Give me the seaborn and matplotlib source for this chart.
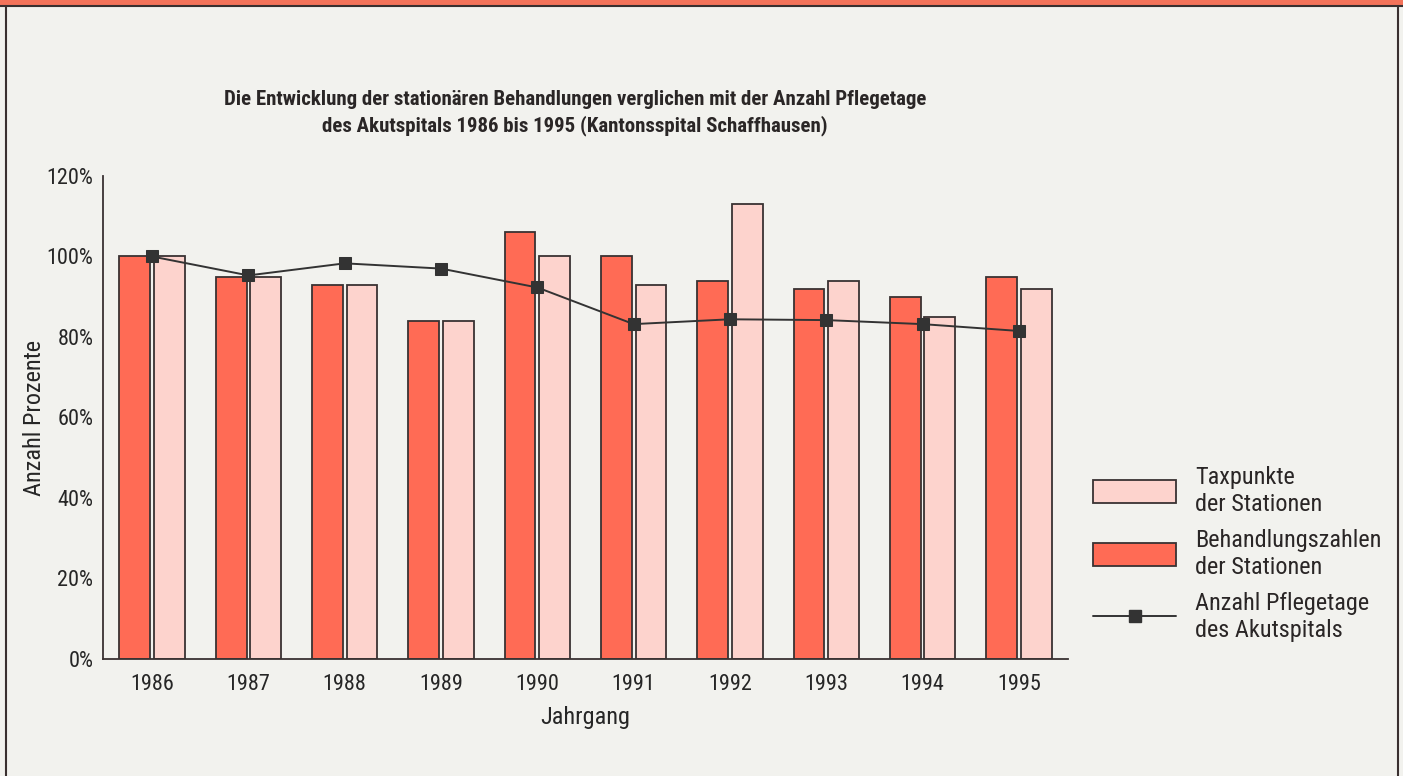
### Stationaere Behandlungen vs. Pflegetage, Kantonsspital Schaffhausen 1986-1995 ###

import matplotlib.pyplot as plt
import numpy as np
import pandas as pd
import seaborn as sns
from matplotlib import font_manager as fm
from matplotlib.lines import Line2D
from matplotlib.patches import Patch, Rectangle

years = ["1986", "1987", "1988", "1989", "1990", "1991", "1992", "1993", "1994", "1995"]
behandlungen = [100, 95, 93, 84, 106, 100, 94, 92, 90, 95]
taxpunkte = [100, 95, 93, 84, 100, 93, 113, 94, 85, 92]
pflegetage = [100, 95.3, 98.3, 97, 92.3, 83.2, 84.4, 84.2, 83.2, 81.5]

series_names = ["Behandlungszahlen\nder Stationen", "Taxpunkte\nder Stationen"]
line_name = "Anzahl Pflegetage\ndes Akutspitals"

RED = "#FF6B55"
PINK = "#FDD3CD"
EDGE = "#3A3232"
BG = "#F2F2EE"

sns.set_style("white")
families = ["Roboto Condensed", "Liberation Sans Narrow", "DejaVu Sans"]
plt.rcParams["font.family"] = families
plt.rcParams["font.stretch"] = "condensed"
plt.rcParams["text.color"] = "#2A2626"

# the original uses a condensed face; shrink text if none is installed
font_path = fm.findfont(fm.FontProperties(family=families, stretch="condensed"))
condensed = any(k in font_path for k in ("Condensed", "Narrow"))
k = 1.0 if condensed else 0.85
fs_tick = 16 * k
fs_label = 17.5 * k
fs_title = 15 * k

df = pd.DataFrame(
    {
        "Jahr": years * 2,
        "Serie": [series_names[0]] * len(years) + [series_names[1]] * len(years),
        "Wert": behandlungen + taxpunkte,
    }
)

fig = plt.figure(figsize=(14.03, 7.76), dpi=100, facecolor=BG)
ax = fig.add_axes([103 / 1403, 1 - 659 / 776, 965 / 1403, (659 - 176) / 776])
ax.set_facecolor(BG)

sns.barplot(
    data=df,
    x="Jahr",
    y="Wert",
    hue="Serie",
    hue_order=series_names,
    palette={series_names[0]: RED, series_names[1]: PINK},
    width=0.72,
    gap=0.11,
    edgecolor=EDGE,
    linewidth=1.3,
    saturation=1,
    legend=False,
    ax=ax,
)
sns.lineplot(
    x=np.arange(len(years)),
    y=pflegetage,
    color="#333333",
    linewidth=1.4,
    marker="s",
    markersize=9,
    markeredgecolor="#333333",
    ax=ax,
    zorder=5,
)

ax.set_xlim(-0.51, 9.51)
ax.set_ylim(0, 120)
ax.set_yticks([0, 20, 40, 60, 80, 100, 120])
ax.set_yticklabels([f"{v}%" for v in range(0, 121, 20)])
ax.set_xticks(np.arange(len(years)))
ax.set_xticklabels(years)
ax.set_xticks(np.arange(len(years)) + 0.5, minor=True)
ax.tick_params(axis="x", which="major", length=0, labelsize=fs_tick, pad=11)
ax.tick_params(axis="x", which="minor", direction="in", length=9, width=1.2, color=EDGE)
ax.tick_params(axis="y", direction="in", length=18, width=1.2, color=EDGE, labelsize=fs_tick, pad=7)
ax.set_axisbelow(True)

for side in ["top", "right"]:
    ax.spines[side].set_visible(False)
for side in ["left", "bottom"]:
    ax.spines[side].set_color(EDGE)
    ax.spines[side].set_linewidth(1.3)

ax.set_xlabel("Jahrgang", fontsize=fs_label, labelpad=8)
ax.set_ylabel("Anzahl Prozente", fontsize=fs_label)
ax.yaxis.set_label_coords(-57 / 965, 0.5)

fig.text(
    575 / 1403,
    1 - 113 / 776,
    "Die Entwicklung der stationären Behandlungen verglichen mit der Anzahl Pflegetage\n"
    "des Akutspitals 1986 bis 1995 (Kantonsspital Schaffhausen)",
    ha="center",
    va="center",
    fontsize=fs_title,
    fontweight="bold",
    linespacing=1.35,
)

handles = [
    Patch(facecolor=PINK, edgecolor=EDGE, linewidth=1.3),
    Patch(facecolor=RED, edgecolor=EDGE, linewidth=1.3),
    Line2D([0], [0], color="#333333", linewidth=1.4, marker="s", markersize=9),
]
em = fs_label * 100 / 72
fig.legend(
    handles,
    [series_names[1], series_names[0], line_name],
    loc="upper left",
    bbox_to_anchor=(1093 / 1403, 1 - 466 / 776),
    frameon=False,
    fontsize=fs_label,
    borderpad=0,
    borderaxespad=0,
    handlelength=83 / em,
    handleheight=27 / em,
    handletextpad=19 / em,
    labelspacing=0.55,
)

# top band and frame of the original page
fig.patches.append(
    Rectangle((0, 1 - 5 / 776), 1, 5 / 776, transform=fig.transFigure,
              facecolor="#F4735A", edgecolor="none")
)
fig.add_artist(Line2D([0, 1], [1 - 5.5 / 776] * 2, transform=fig.transFigure, color="#3A3030", lw=1.5))
fig.add_artist(Line2D([6 / 1403] * 2, [0, 1 - 5.5 / 776], transform=fig.transFigure, color="#3A3030", lw=1.5))
fig.add_artist(Line2D([1398 / 1403] * 2, [0, 1 - 5.5 / 776], transform=fig.transFigure, color="#3A3030", lw=1.5))

fig.savefig("out.png", dpi=100, facecolor=BG)
